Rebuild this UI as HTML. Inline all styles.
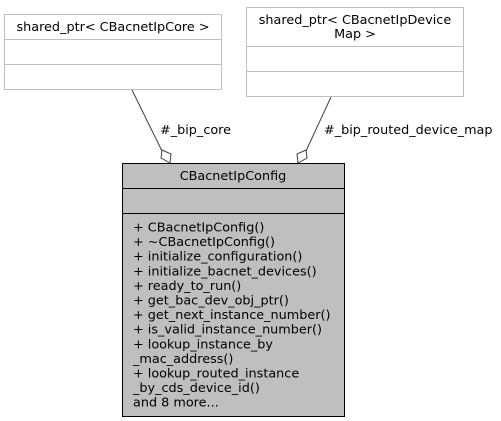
<!DOCTYPE html>
<html><head><meta charset="utf-8"><style>body{margin:0;background:#fff}svg{display:block}</style></head>
<body>
<svg width="501" height="421" viewBox="0 0 501 421" font-family="'DejaVu Sans','Liberation Sans',sans-serif" font-size="12.8">
<rect x="4.5" y="14.5" width="217" height="75" fill="#fff" stroke="#bfbfbf"/>
<line x1="4.5" y1="39.5" x2="221.5" y2="39.5" stroke="#bfbfbf"/>
<line x1="4.5" y1="64.5" x2="221.5" y2="64.5" stroke="#bfbfbf"/>
<text x="113" y="31" text-anchor="middle" fill="#000">shared_ptr&lt; CBacnetIpCore &gt;</text>
<rect x="246.5" y="7.5" width="217" height="89" fill="#fff" stroke="#bfbfbf"/>
<line x1="246.5" y1="46.5" x2="463.5" y2="46.5" stroke="#bfbfbf"/>
<line x1="246.5" y1="71.5" x2="463.5" y2="71.5" stroke="#bfbfbf"/>
<text x="355" y="24" text-anchor="middle">shared_ptr&lt; CBacnetIpDevice</text>
<text x="355" y="38" text-anchor="middle">Map &gt;</text>
<line x1="132" y1="90" x2="162" y2="151" stroke="#404040"/>
<path d="M170,163 L171,154 L162,150 L161,158 Z" fill="#fff" stroke="#404040"/>
<line x1="331" y1="97" x2="306" y2="151" stroke="#404040"/>
<path d="M298,163 L297,154 L306,150 L307,158 Z" fill="#fff" stroke="#404040"/>
<text x="160" y="134">#_bip_core</text>
<text x="324" y="134">#_bip_routed_device_map</text>
<rect x="122.5" y="163.5" width="222" height="253" fill="#bfbfbf" stroke="#000"/>
<line x1="122.5" y1="188.5" x2="344.5" y2="188.5" stroke="#000"/>
<line x1="122.5" y1="213.5" x2="344.5" y2="213.5" stroke="#000"/>
<text x="233" y="180" text-anchor="middle">CBacnetIpConfig</text>
<g>
<text x="133" y="231.5">+ CBacnetIpConfig()</text>
<text x="133" y="246.1">+ ~CBacnetIpConfig()</text>
<text x="133" y="260.7">+ initialize_configuration()</text>
<text x="133" y="275.3">+ initialize_bacnet_devices()</text>
<text x="133" y="289.9">+ ready_to_run()</text>
<text x="133" y="304.5">+ get_bac_dev_obj_ptr()</text>
<text x="133" y="319.1">+ get_next_instance_number()</text>
<text x="133" y="333.7">+ is_valid_instance_number()</text>
<text x="133" y="348.3">+ lookup_instance_by</text>
<text x="133" y="362.9">_mac_address()</text>
<text x="133" y="377.5">+ lookup_routed_instance</text>
<text x="133" y="392.1">_by_cds_device_id()</text>
<text x="133" y="406.7">and 8 more...</text>
</g>
</svg>
</body></html>
